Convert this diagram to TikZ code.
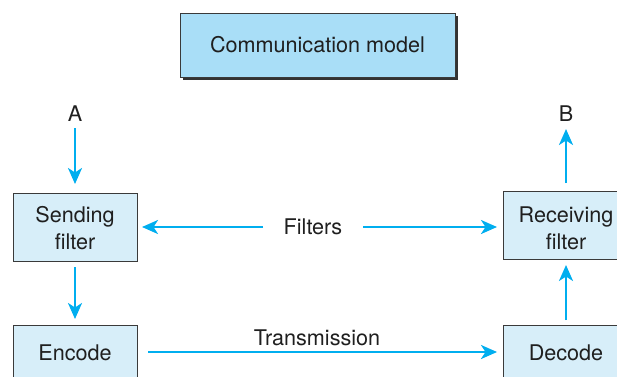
\documentclass[tikz,border=0pt]{standalone}
\usepackage{fontspec}
\setmainfont{TeX Gyre Heros}
\usetikzlibrary{arrows.meta}
\definecolor{arrowblue}{HTML}{00AEEF}
\definecolor{titlefill}{HTML}{A9DEF7}
\definecolor{boxfill}{HTML}{D7EEF9}
\definecolor{boxline}{HTML}{3A3A3A}
\tikzset{
  txt/.style={font=\fontsize{21.6}{27}\selectfont, text=black!88},
  box/.style={draw=boxline, line width=0.9pt, fill=boxfill, minimum width=124pt, minimum height=68pt, inner sep=0pt},
  lbl/.style={txt, inner sep=0pt, align=center},
  arr/.style={draw=arrowblue, line width=2.3pt, -{Stealth[length=16pt,width=14pt,inset=4.5pt]}},
}
\begin{document}
\begin{tikzpicture}[x=1pt,y=1pt]
\clip (0,0) rectangle (617,-376);
\fill[white] (0,0) rectangle (617,-376);
% title
\fill[black!80] (183,-16) rectangle (458,-80);
\node[txt, draw=boxline, line width=0.9pt, fill=titlefill, minimum width=275pt, minimum height=64pt, inner sep=0pt] (title) at (317.5,-45) {Communication model};
% boxes
\node[box] (send) at (75,-227) {};
\node[box] (recv) at (565,-225) {};
\node[box, anchor=north] (enc) at (75,-325) {};
\node[box, anchor=north] (dec) at (565,-325) {};
\node[lbl] (sendt) at (75,-228.5) {Sending\\filter};
\node[lbl] (recvt) at (566,-228.5) {Receiving\\filter};
\node[lbl] (enct) at (75,-353) {Encode};
\node[lbl] (dect) at (566,-353) {Decode};
% labels
\node[lbl] (A) at (75,-114) {A};
\node[lbl] (B) at (566,-114) {B};
\node[lbl] (filt) at (313,-227) {Filters};
\node[lbl] (trans) at (317,-338) {Transmission};
% coordinates
\coordinate (a1) at (75,-128);
\coordinate (a2) at (75,-184);
\coordinate (b1) at (566,-183);
\coordinate (b2) at (566,-129);
\coordinate (s1) at (75,-267);
\coordinate (s2) at (75,-319);
\coordinate (d1) at (566,-320);
\coordinate (d2) at (566,-265);
\coordinate (f1) at (263,-227);
\coordinate (f2) at (142,-227);
\coordinate (f3) at (363,-227);
\coordinate (f4) at (497,-227);
\coordinate (t1) at (148,-352);
\coordinate (t2) at (497,-352);
\draw[arr] (a1) -- (a2);
\draw[arr] (b1) -- (b2);
\draw[arr] (s1) -- (s2);
\draw[arr] (d1) -- (d2);
\draw[arr] (f1) -- (f2);
\draw[arr] (f3) -- (f4);
\draw[arr] (t1) -- (t2);
\end{tikzpicture}
\end{document}
